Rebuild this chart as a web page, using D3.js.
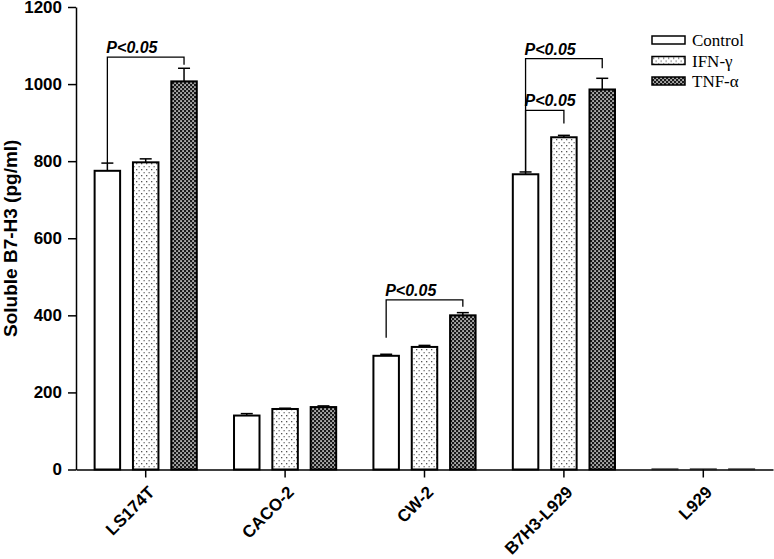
<!DOCTYPE html>
<html>
<head>
<meta charset="utf-8">
<style>
  body { margin: 0; background: #fff; }
</style>
</head>
<body>
<svg id="chart" width="774" height="559"></svg>
<script src="https://cdnjs.cloudflare.com/ajax/libs/d3/7.8.5/d3.min.js"></script>
<script>
  // data
  var groups = ["LS174T", "CACO-2", "CW-2", "B7H3-L929", "L929"]
  var series = ["Control", "IFN-\u03b3", "TNF-\u03b1"]
  var control = [775, 140, 295, 766, 2]
  var ifn = [797, 157, 318, 862, 2]
  var tnf = [1007, 162, 400, 986, 2]
  var controlErr = [20, 5, 4, 6, 0]
  var ifnErr = [9, 2, 4, 5, 0]
  var tnfErr = [34, 3, 7, 29, 0]
  var yTicks = [0, 200, 400, 600, 800, 1000, 1200]
  // significance brackets: group, from series, to series, level, left end, right end
  var brackets = [
    { group: "LS174T", from: 0, to: 2, level: 1070, left: 795, right: 1050 },
    { group: "CW-2", from: 0, to: 2, level: 440, left: 342, right: 422 },
    { group: "B7H3-L929", from: 0, to: 2, level: 1066, left: 772, right: 1041 },
    { group: "B7H3-L929", from: 0, to: 1, level: 932, left: 772, right: 898 }
  ]

  var values = [control, ifn, tnf]
  var errors = [controlErr, ifnErr, tnfErr]
  var data = []
  groups.forEach((g, i) => {
    series.forEach((s, j) => {
      data.push({ group: g, s: j, value: values[j][i], err: errors[j][i] })
    })
  })

  var sans = "'Liberation Sans', Arial, sans-serif"
  var serif = "'Liberation Serif', 'Times New Roman', serif"
  var svg = d3.select("#chart")
  var plotLeft = 76, plotRight = 773, plotTop = 7, plotBottom = 469.5

  var x0 = d3.scaleBand().domain(groups).range([plotLeft, plotRight]).paddingInner(0.175).paddingOuter(0.0875)
  var x1 = d3.scaleBand().domain([0, 1, 2]).range([0, x0.bandwidth()]).paddingInner(0.335).paddingOuter(0.1675)
  var y = d3.scaleLinear().domain([0, 1200]).range([plotBottom, plotTop])

  // patterns
  var defs = svg.append("defs")
  var dots = defs.append("pattern").attr("id", "dots").attr("patternUnits", "userSpaceOnUse")
    .attr("width", 5).attr("height", 6)
  dots.append("rect").attr("width", 5).attr("height", 6).attr("fill", "#fff")
  dots.append("rect").attr("x", 1).attr("y", 1).attr("width", 1.3).attr("height", 1.3).attr("fill", "#555")
  dots.append("rect").attr("x", 3.5).attr("y", 4).attr("width", 1.3).attr("height", 1.3).attr("fill", "#777")
  var check = defs.append("pattern").attr("id", "check").attr("patternUnits", "userSpaceOnUse")
    .attr("width", 4).attr("height", 4)
  check.append("rect").attr("width", 4).attr("height", 4).attr("fill", "#1a1a1a")
  check.append("rect").attr("x", 0.3).attr("y", 0.3).attr("width", 1.5).attr("height", 1.5).attr("fill", "#fff")
  check.append("rect").attr("x", 2.3).attr("y", 2.3).attr("width", 1.5).attr("height", 1.5).attr("fill", "#fff")
  var fills = ["#fff", "url(#dots)", "url(#check)"]

  // bars
  svg.selectAll(".bar")
    .data(data)
    .enter()
    .append("rect")
    .attr("class", "bar")
    .attr("x", (d) => x0(d.group) + x1(d.s))
    .attr("width", x1.bandwidth())
    .attr("y", (d) => y(d.value))
    .attr("height", (d) => y(0) - y(d.value))
    .attr("fill", (d) => fills[d.s])
    .attr("stroke", (d) => d.value < 5 ? "#777" : "#000")
    .attr("stroke-width", (d) => d.value < 5 ? 1.5 : 2)

  // error bars (upper only)
  var eb = svg.selectAll(".err").data(data.filter((d) => d.err > 0)).enter().append("g").attr("class", "err")
  eb.append("line")
    .attr("x1", (d) => x0(d.group) + x1(d.s) + x1.bandwidth() / 2)
    .attr("x2", (d) => x0(d.group) + x1(d.s) + x1.bandwidth() / 2)
    .attr("y1", (d) => y(d.value))
    .attr("y2", (d) => y(d.value + d.err))
    .attr("stroke", "#000").attr("stroke-width", 1.5)
  eb.append("line")
    .attr("x1", (d) => x0(d.group) + x1(d.s) + x1.bandwidth() / 2 - 6)
    .attr("x2", (d) => x0(d.group) + x1(d.s) + x1.bandwidth() / 2 + 6)
    .attr("y1", (d) => y(d.value + d.err))
    .attr("y2", (d) => y(d.value + d.err))
    .attr("stroke", "#000").attr("stroke-width", 1.5)

  // axes
  var xAxis = svg.append("g")
    .attr("transform", "translate(0," + plotBottom + ")")
    .call(d3.axisBottom(x0).tickSizeInner(8).tickSizeOuter(0))
  xAxis.select(".domain").attr("stroke-width", 1.5)
  xAxis.selectAll(".tick line").attr("stroke-width", 1.5)
  xAxis.selectAll(".tick text")
    .style("font-size", "17px").style("font-weight", "bold").style("font-family", sans)
    .attr("text-anchor", "end")
    .attr("dy", null).attr("y", 0)
    .attr("transform", "translate(6,20) rotate(-45)")
    .attr("dominant-baseline", "central")

  var yAxis = svg.append("g")
    .attr("transform", "translate(" + plotLeft + ",0)")
    .call(d3.axisLeft(y).tickValues(yTicks).tickFormat(d3.format("d")).tickSizeInner(8).tickSizeOuter(0).tickPadding(6))
  yAxis.select(".domain").attr("stroke-width", 1.5)
  yAxis.selectAll(".tick line").attr("stroke-width", 1.5)
  yAxis.selectAll(".tick text")
    .style("font-size", "17px").style("font-weight", "bold").style("font-family", sans)

  svg.append("text")
    .attr("transform", "translate(17," + (plotBottom + plotTop) / 2 + ") rotate(-90)")
    .attr("text-anchor", "middle")
    .style("font-size", "19px").style("font-weight", "bold").style("font-family", sans)
    .text("Soluble B7-H3 (pg/ml)")

  // significance brackets
  var cx = (g, s) => x0(g) + x1(s) + x1.bandwidth() / 2
  var br = svg.selectAll(".br").data(brackets).enter().append("g").attr("class", "br")
  br.append("path")
    .attr("d", (d) => "M" + cx(d.group, d.from) + "," + y(d.left) +
      "V" + y(d.level) + "H" + cx(d.group, d.to) + "V" + y(d.right))
    .attr("fill", "none").attr("stroke", "#000").attr("stroke-width", 1.3)
  br.append("text")
    .attr("x", (d) => cx(d.group, d.from) - 1)
    .attr("y", (d) => y(d.level) - 4)
    .style("font-size", "16px").style("font-weight", "bold").style("font-style", "italic").style("font-family", sans)
    .text("P<0.05")

  // legend
  var legend = svg.append("g").attr("transform", "translate(652,36)")
  var items = legend.selectAll(".leg").data(series).enter().append("g")
    .attr("transform", (d, i) => "translate(0," + i * 20.5 + ")")
  items.append("rect")
    .attr("width", 33).attr("height", 8)
    .attr("fill", (d, i) => fills[i])
    .attr("stroke", "#000").attr("stroke-width", 1.5)
  items.append("text")
    .attr("x", 40).attr("y", 10)
    .style("font-family", serif).style("font-size", "17px")
    .text((d) => d)
</script>
</body>
</html>
